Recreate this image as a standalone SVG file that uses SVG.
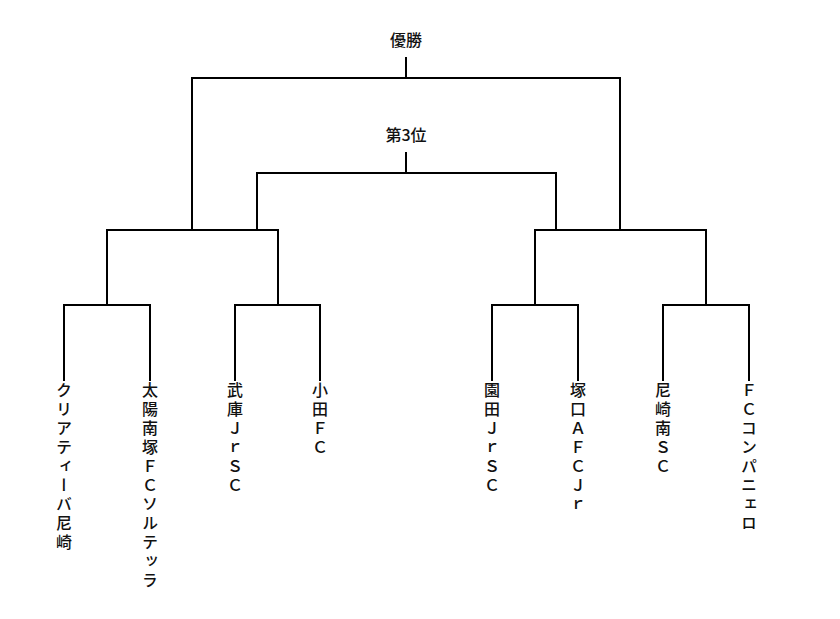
<svg xmlns="http://www.w3.org/2000/svg" width="840" height="619" viewBox="0 0 840 619">
<style>
.ln{stroke:#000;stroke-width:2;fill:none;stroke-linecap:square}
.t{font-family:"Noto Sans CJK JP","Noto Sans",sans-serif;font-size:16px;font-weight:500;fill:#111}
.v{font-family:"Noto Sans CJK JP","Noto Sans",sans-serif;font-size:16px;font-weight:500;fill:#111;writing-mode:vertical-rl;text-orientation:upright;letter-spacing:3px}
</style>
<rect width="840" height="619" fill="#fff"/>
<g id="connectors">
<path class="ln" d="M406,58V78M192,78H620M192,78V230M620,78V230"/>
<path class="ln" d="M406,153V173M257,173H556M257,173V230M556,173V230"/>
<path class="ln" d="M107,230H278M107,230V305M278,230V305"/>
<path class="ln" d="M535,230H706M535,230V305M706,230V305"/>
<path class="ln" d="M64,305H150M64,305V380M150,305V380"/>
<path class="ln" d="M235,305H320M235,305V380M320,305V380"/>
<path class="ln" d="M492,305H578M492,305V380M578,305V380"/>
<path class="ln" d="M663,305H749M663,305V380M749,305V380"/>
</g>
<g id="champion"><text class="t" x="406" y="46" text-anchor="middle">優勝</text></g>
<g id="third"><text class="t" x="406" y="141" text-anchor="middle">第3位</text></g>
<g id="team1"><text class="v" x="64" y="382">クリアティーバ尼崎</text></g>
<g id="team2"><text class="v" x="150" y="382">太陽南塚ＦＣソルテッラ</text></g>
<g id="team3"><text class="v" x="235" y="382">武庫ＪｒＳＣ</text></g>
<g id="team4"><text class="v" x="320" y="382">小田ＦＣ</text></g>
<g id="team5"><text class="v" x="492" y="382">園田ＪｒＳＣ</text></g>
<g id="team6"><text class="v" x="578" y="382">塚口ＡＦＣＪｒ</text></g>
<g id="team7"><text class="v" x="663" y="382">尼崎南ＳＣ</text></g>
<g id="team8"><text class="v" x="749" y="382">ＦＣコンパニェロ</text></g>
</svg>
